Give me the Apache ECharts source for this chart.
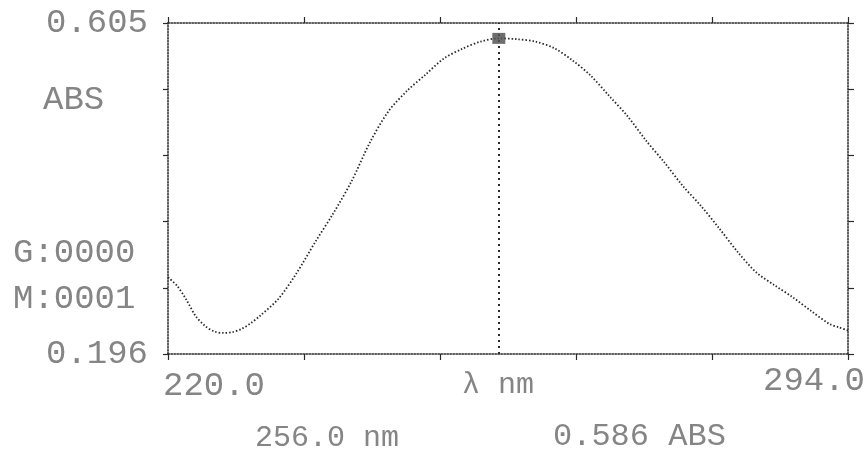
<!DOCTYPE html>
<html>
<head>
<meta charset="utf-8">
<script src="https://cdn.jsdelivr.net/npm/echarts@6/dist/echarts.min.js"></script>
<style>
html,body{margin:0;padding:0;background:#fff;}
#chart{width:867px;height:452px;}
</style>
</head>
<body>
<div id="chart"></div>
<script>
// Wavelength (nm) and absorbance
const wavelengths = [220,221,222,223,224,225,226,227,228,229,230,232,234,236,238,240,242,244,246,248,250,252,254,256,258,260,262,264,266,268,270,272,274,276,278,280,282,284,286,288,290,292,293,294];
const absorbance  = [0.291,0.280,0.263,0.243,0.231,0.224,0.222,0.223,0.227,0.234,0.243,0.264,0.296,0.334,0.370,0.410,0.458,0.496,0.521,0.541,0.561,0.573,0.582,0.586,0.585,0.582,0.574,0.559,0.540,0.515,0.490,0.460,0.433,0.404,0.379,0.351,0.322,0.297,0.281,0.266,0.249,0.233,0.229,0.225];
const xRange = [220.0, 294.0];
const yRange = [0.196, 0.605];
const xTickLabels = ['220.0', '294.0'];
const yTickLabels = ['0.196', '0.605'];
const peakWavelength = 256.0;
const peakAbs = 0.586;
const sideLabels = ['ABS', 'G:0000', 'M:0001'];
const axisName = 'λ nm';
const readout = ['256.0 nm', '0.586 ABS'];

const ink = '#2a2a2a';
const textInk = '#858585';
const mono = "'Liberation Mono', 'DejaVu Sans Mono', monospace";
const xInterval = (xRange[1] - xRange[0]) / 5;
const yInterval = +((yRange[1] - yRange[0]) / 5).toFixed(4);

const dotted = {color: ink, width: 1.5, type: [1.5, 1.5]};

const chart = echarts.init(document.getElementById('chart'));
chart.setOption({
  animation: false,
  backgroundColor: '#ffffff',
  grid: {left: 168, right: 19, top: 23, bottom: 98},
  xAxis: [
    {type: 'value', min: xRange[0], max: xRange[1], interval: xInterval, position: 'bottom',
     axisLine: {show: true, lineStyle: dotted},
     axisTick: {show: true, inside: false, length: 6, lineStyle: {color: ink, width: 1.2}},
     axisLabel: {show: false}, splitLine: {show: false}},
    {type: 'value', min: xRange[0], max: xRange[1], interval: xInterval, position: 'top',
     axisLine: {show: true, lineStyle: dotted},
     axisTick: {show: true, inside: false, length: 6, lineStyle: {color: ink, width: 1.2}},
     axisLabel: {show: false}, splitLine: {show: false}}
  ],
  yAxis: [
    {type: 'value', min: yRange[0], max: yRange[1], interval: yInterval, position: 'left',
     axisLine: {show: true, lineStyle: dotted},
     axisTick: {show: true, inside: false, length: 5, lineStyle: {color: ink, width: 1.2}},
     axisLabel: {show: true, margin: 20, fontFamily: mono, fontSize: 34, color: textInk,
       padding: [10, 0, 0, 0],
       formatter: function (v) {
         if (Math.abs(v - yRange[0]) < 1e-6) return yTickLabels[0];
         if (Math.abs(v - yRange[1]) < 1e-6) return yTickLabels[1];
         return '';
       }},
     splitLine: {show: false}},
    {type: 'value', min: yRange[0], max: yRange[1], interval: yInterval, position: 'right',
     axisLine: {show: true, lineStyle: dotted},
     axisTick: {show: true, inside: false, length: 6, lineStyle: {color: ink, width: 1.2}},
     axisLabel: {show: false}, splitLine: {show: false}}
  ],
  series: [{
    type: 'line',
    xAxisIndex: 0, yAxisIndex: 0,
    data: wavelengths.map((w, i) => [w, absorbance[i]]),
    showSymbol: false,
    smooth: 0.3,
    lineStyle: {color: ink, width: 1.8, type: [1.5, 2]},
    markLine: {
      silent: true, symbol: 'none', label: {show: false},
      lineStyle: {color: ink, width: 2, type: [2, 4]},
      data: [{xAxis: peakWavelength}]
    },
    markPoint: {
      silent: true, symbol: 'rect', symbolSize: [13, 11],
      itemStyle: {color: '#555', opacity: 0.85},
      label: {show: false},
      data: [{coord: [peakWavelength, peakAbs]}]
    }
  }],
  graphic: [
    {type: 'text', left: 43, top: 83, style: {text: sideLabels[0], font: '34px ' + mono, fill: textInk}},
    {type: 'text', left: 13, top: 236, style: {text: sideLabels[1], font: '34px ' + mono, fill: textInk}},
    {type: 'text', left: 13, top: 282, style: {text: sideLabels[2], font: '34px ' + mono, fill: textInk}},
    {type: 'text', left: 163, top: 369, style: {text: xTickLabels[0], font: '34px ' + mono, fill: textInk}},
    {type: 'text', right: 2, top: 364, style: {text: xTickLabels[1], font: '34px ' + mono, fill: textInk}},
    {type: 'text', left: 462, top: 370, style: {text: axisName, font: '30px ' + mono, fill: textInk}},
    {type: 'text', left: 255, top: 423, style: {text: readout[0], font: '30px ' + mono, fill: textInk}},
    {type: 'text', left: 553, top: 421, style: {text: readout[1], font: '32px ' + mono, fill: textInk}}
  ]
});
</script>
</body>
</html>
